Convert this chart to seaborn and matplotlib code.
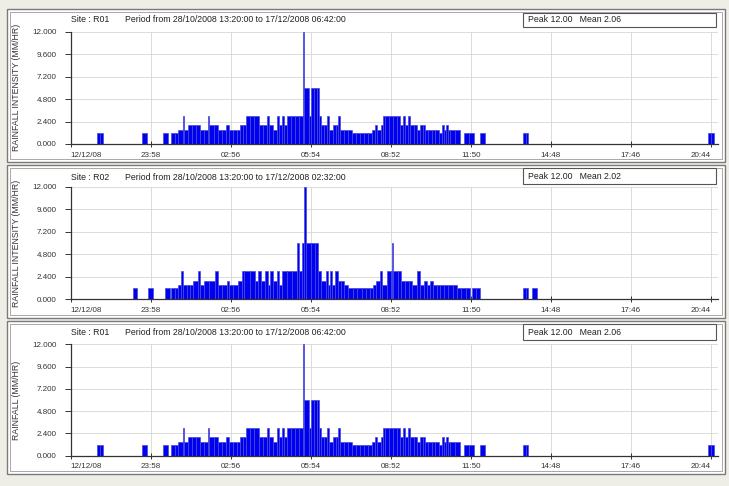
import numpy as np
import pandas as pd
import seaborn as sns
import matplotlib.pyplot as plt
from matplotlib.patches import Rectangle

# rain gauge intensity records, minutes after 21:00 on 12/12/08
r01_start = [58, 65, 159, 205, 223, 231, 239, 249, 253, 261, 270, 279, 288, 296, 305, 308, 318, 328,
             337, 346, 352, 361, 370, 377, 383, 390, 399, 408, 419, 428, 437, 441, 450, 459, 463, 470,
             475, 481, 490, 499, 508, 517, 519, 530, 535, 541, 548, 553, 557, 564, 570, 575, 584, 590,
             595, 599, 608, 617, 626, 635, 644, 653, 662, 670, 677, 682, 690, 695, 699, 708, 717, 726,
             733, 739, 744, 750, 755, 763, 771, 777, 784, 788, 795, 804, 811, 820, 826, 831, 835, 840,
             844, 855, 875, 886, 911, 1006, 1012, 1418, 1425]
r01_dur = [7, 7, 11, 11, 8, 8, 10, 4, 8, 9, 9, 9, 8, 9, 3, 10, 10, 9,
           9, 6, 9, 9, 7, 6, 7, 9, 9, 11, 9, 9, 4, 9, 9, 4, 7, 5,
           6, 9, 9, 9, 9, 2, 11, 5, 6, 7, 5, 4, 7, 6, 5, 9, 6, 5,
           4, 9, 9, 9, 9, 9, 9, 9, 8, 7, 5, 8, 5, 4, 9, 9, 9, 7,
           6, 5, 6, 5, 8, 8, 6, 7, 4, 7, 9, 7, 9, 6, 5, 4, 5, 4,
           11, 11, 11, 11, 11, 6, 6, 7, 7]
r01_val = [1.2, 1.2, 1.2, 1.2, 1.2, 1.2, 1.5, 3.0, 1.5, 2.0, 2.0, 2.0, 1.5, 1.5, 3.0, 2.0, 2.0, 1.5,
           1.5, 2.0, 1.5, 1.5, 1.5, 2.0, 2.0, 3.0, 3.0, 3.0, 2.0, 2.0, 3.0, 2.0, 1.5, 3.0, 2.0, 3.0,
           2.0, 3.0, 3.0, 3.0, 3.0, 12.0, 6.0, 3.0, 6.0, 6.0, 6.0, 3.0, 2.0, 2.0, 3.0, 1.5, 2.0, 2.0,
           3.0, 1.5, 1.5, 1.5, 1.2, 1.2, 1.2, 1.2, 1.2, 1.5, 2.0, 1.5, 2.0, 3.0, 3.0, 3.0, 3.0, 3.0,
           2.0, 3.0, 2.0, 3.0, 2.0, 2.0, 1.5, 2.0, 2.0, 1.5, 1.5, 1.5, 1.5, 1.2, 2.0, 1.5, 2.0, 1.5,
           1.5, 1.5, 1.2, 1.2, 1.2, 1.2, 1.2, 1.2, 1.2]

r02_start = [138, 173, 210, 223, 231, 239, 245, 250, 258, 266, 273, 284, 288, 297, 308, 321, 327, 336,
             347, 352, 362, 373, 382, 386, 398, 410, 417, 423, 432, 438, 443, 451, 458, 463, 471, 481,
             492, 503, 508, 514, 520, 523, 534, 543, 551, 558, 569, 572, 577, 582, 588, 594, 601, 607,
             618, 628, 638, 648, 657, 665, 673, 679, 688, 693, 703, 712, 714, 718, 728, 736, 744, 752,
             759, 770, 777, 785, 792, 799, 807, 815, 822, 831, 840, 850, 859, 869, 879, 892, 902, 1006,
             1012, 1026]
r02_dur = [10, 10, 11, 8, 8, 6, 5, 8, 8, 7, 11, 4, 9, 11, 13, 6, 9, 11,
           5, 10, 11, 9, 4, 12, 12, 7, 6, 9, 6, 5, 8, 7, 5, 8, 10, 11,
           11, 5, 6, 6, 3, 11, 9, 8, 7, 11, 3, 5, 5, 6, 6, 7, 6, 11,
           10, 10, 10, 9, 8, 8, 6, 9, 5, 10, 9, 2, 4, 10, 8, 8, 8, 7,
           11, 7, 8, 7, 7, 8, 8, 7, 9, 9, 10, 9, 10, 10, 9, 10, 9, 6,
           6, 11]
r02_val = [1.2, 1.2, 1.2, 1.2, 1.2, 1.5, 3.0, 1.5, 1.5, 1.5, 2.0, 3.0, 1.5, 2.0, 2.0, 3.0, 1.5, 1.5,
           2.0, 1.5, 1.5, 2.0, 3.0, 3.0, 3.0, 2.0, 3.0, 2.0, 3.0, 1.5, 3.0, 2.0, 3.0, 1.5, 3.0, 3.0,
           3.0, 6.0, 3.0, 6.0, 12.0, 6.0, 6.0, 6.0, 3.0, 2.0, 3.0, 1.5, 3.0, 1.5, 3.0, 2.0, 2.0, 1.5,
           1.2, 1.2, 1.2, 1.2, 1.2, 1.2, 1.5, 2.0, 3.0, 1.5, 3.0, 3.0, 6.0, 3.0, 3.0, 2.0, 2.0, 2.0,
           1.5, 3.0, 1.5, 2.0, 1.5, 2.0, 1.5, 1.5, 1.5, 1.5, 1.5, 1.5, 1.2, 1.2, 1.2, 1.2, 1.2, 1.2,
           1.2, 1.2]

tick_min = [0, 178, 356, 534, 712, 890, 1068, 1246, 1424]
tick_lab = ["12/12/08", "23:58", "02:56", "05:54", "08:52", "11:50", "14:48", "17:46", "20:44"]
y_ticks = [0, 2.4, 4.8, 7.2, 9.6, 12.0]

sites = ["R01", "R02", "R01"]
period_end = ["17/12/2008 06:42:00", "17/12/2008 02:32:00", "17/12/2008 06:42:00"]
peaks = ["12.00", "12.00", "12.00"]
means = ["2.06", "2.02", "2.06"]
ylabels = ["RAINFALL INTENSITY (MM/HR)", "RAINFALL INTENSITY (MM/HR)", "RAINFALL (MM/HR)"]

data = [pd.DataFrame({"start": r01_start, "dur": r01_dur, "val": r01_val}),
        pd.DataFrame({"start": r02_start, "dur": r02_dur, "val": r02_val}),
        pd.DataFrame({"start": r01_start, "dur": r01_dur, "val": r01_val})]
for df in data:
    df["mid"] = df["start"] + df["dur"] / 2

sns.set_style("white")
plt.rcParams['font.family'] = ['Liberation Sans', 'DejaVu Sans']

W, H = 729, 486
fig = plt.figure(figsize=(W / 100, H / 100), dpi=100, facecolor="#efeee6")

def fx(x):
    return x / W

def fy(y):
    return 1 - y / H

# pixel layout of each panel: frame top/bottom, axis top/bottom, header line, peak box
frames = [(9, 162), (165, 318), (321, 474)]
axes_y = [(31.7, 144), (186.7, 299.3), (344.3, 455.7)]
head_y = [20, 177, 332.5]
box_y = [(12.7, 26.7), (168.3, 184), (324.3, 340)]
x0, x1 = 70.7, 717.9
fs = 6.3

for i in range(3):
    ft, fb = frames[i]
    fig.patches.append(Rectangle((fx(7), fy(fb)), fx(725 - 7), (fb - ft) / H, transform=fig.transFigure,
                                 facecolor="white", edgecolor="#7a7a7a", lw=1.0, zorder=-3))
    fig.patches.append(Rectangle((fx(10), fy(fb - 3)), fx(722 - 10), (fb - ft - 6) / H, transform=fig.transFigure,
                                 facecolor="none", edgecolor="#a8a8a8", lw=0.7, zorder=-2))

    at, ab = axes_y[i]
    ax = fig.add_axes([fx(x0), fy(ab), fx(x1 - x0), (ab - at) / H])
    ax.set_facecolor("none")
    df = data[i]
    edges = np.unique(np.r_[df["start"], df["start"] + df["dur"]]).tolist()
    sns.histplot(data=df, x="mid", weights="val", bins=edges, ax=ax,
                 color="#0000f0", alpha=1, edgecolor="#4a4ad8", linewidth=0.5, legend=False)

    ax.set_xlim(0, 1440)
    ax.set_ylim(0, 12)
    ax.set_xticks(tick_min)
    ax.set_xticklabels(tick_lab)
    labs = ax.get_xticklabels()
    labs[0].set_horizontalalignment("left")
    labs[-1].set_horizontalalignment("right")
    ax.set_yticks(y_ticks)
    ax.set_yticklabels([f"{v:.3f}" for v in y_ticks])
    ax.tick_params(axis="x", direction="inout", length=5, width=0.7, colors="#333333",
                   labelsize=5.8, pad=3, bottom=True)
    ax.tick_params(axis="y", direction="out", length=4, width=0.7, colors="#333333",
                   labelsize=5.8, pad=6, left=True)
    ax.grid(True, color="#d6d6d6", lw=0.6)
    ax.set_axisbelow(True)
    sns.despine(ax=ax, top=True, right=True)
    for s in ["left", "bottom"]:
        ax.spines[s].set_color("#333333")
        ax.spines[s].set_linewidth(0.9)
        ax.spines[s].set_zorder(5)
    ax.set_xlabel("")
    ax.set_ylabel(ylabels[i], fontsize=fs, color="#333333")
    ax.yaxis.set_label_coords((21 - x0) / (x1 - x0), 0.5)

    fig.text(fx(71), fy(head_y[i]), f"Site : {sites[i]}", fontsize=fs, va="center", color="#222222")
    fig.text(fx(125), fy(head_y[i]), f"Period from 28/10/2008 13:20:00 to {period_end[i]}",
             fontsize=fs, va="center", color="#222222")

    bt, bb = box_y[i]
    fig.patches.append(Rectangle((fx(523), fy(bb)), fx(716 - 523), (bb - bt) / H, transform=fig.transFigure,
                                 facecolor="white", edgecolor="#555555", lw=0.8, zorder=-1))
    fig.text(fx(528), fy((bt + bb) / 2), f"Peak {peaks[i]}   Mean {means[i]}", fontsize=fs,
             va="center", color="#222222")

fig.savefig("out.png", dpi=100, facecolor=fig.get_facecolor())
